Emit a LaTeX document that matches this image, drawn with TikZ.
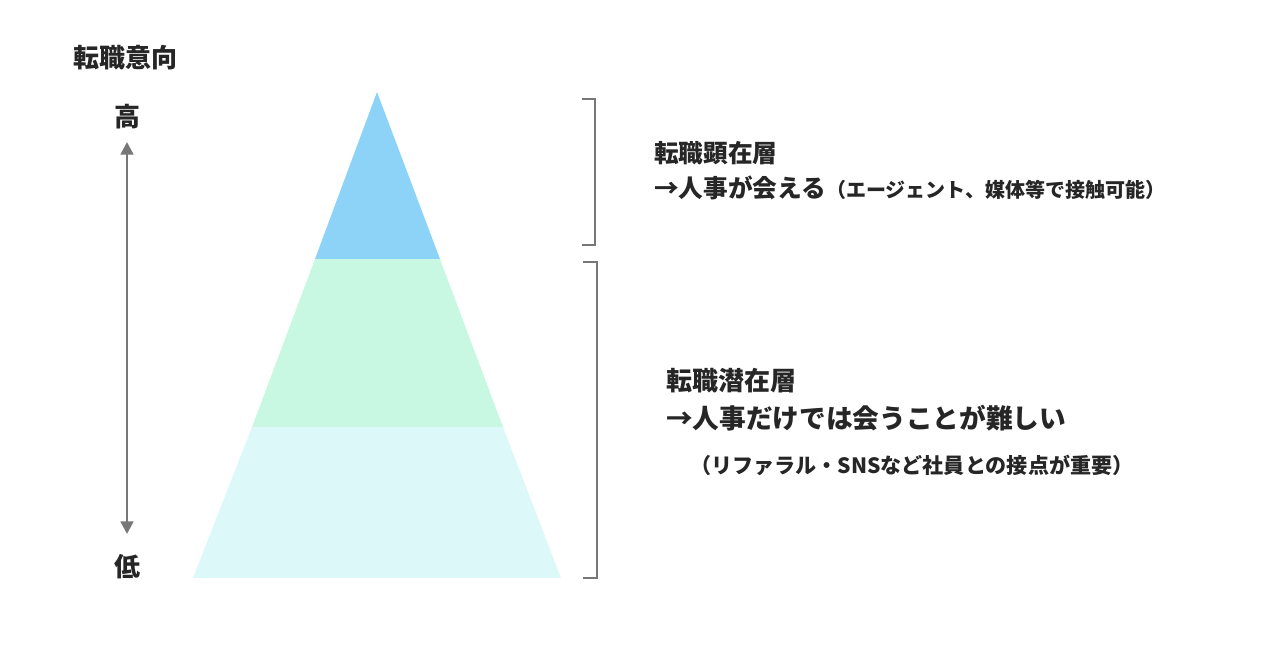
\documentclass[tikz,border=0pt]{standalone}
\usepackage{fontspec}
\newfontfamily\jp{Noto Sans CJK JP}
\usetikzlibrary{arrows.meta}
\definecolor{topblue}{HTML}{8DD3F7}
\definecolor{midgreen}{HTML}{C9F8E2}
\definecolor{lowcyan}{HTML}{DDF8F8}
\definecolor{greyline}{HTML}{777777}
\tikzset{
  lbl/.style={inner sep=0pt, font=\jp\bfseries, text=black!85},
  bracket/.style={draw=greyline, line width=2pt},
}
\begin{document}
\begin{tikzpicture}[x=0.75pt,y=-0.75pt]
\useasboundingbox (0,0) rectangle (1280,670);
% pyramid
\coordinate (apex) at (377,92);
\coordinate (tl) at (315,259);
\coordinate (tr) at (440,259);
\coordinate (ml) at (252,427);
\coordinate (mr) at (503,427);
\coordinate (bl) at (193,578);
\coordinate (br) at (561,578);
\fill[topblue] (apex) -- (tr) -- (tl) -- cycle;
\fill[midgreen] (tl) -- (tr) -- (mr) -- (ml) -- cycle;
\fill[lowcyan] (ml) -- (mr) -- (br) -- (bl) -- cycle;
% axis
\node[lbl, anchor=west] (title) at (73,58) {\fontsize{19.5}{22}\selectfont 転職意向};
\node[lbl] (hi) at (127,117) {\fontsize{19.5}{22}\selectfont 高};
\node[lbl] (lo) at (127,567) {\fontsize{19.5}{22}\selectfont 低};
\coordinate (atop) at (127,142);
\coordinate (abot) at (127,534);
\draw[greyline, line width=2pt, {Triangle[length=9.5pt,width=9.5pt]}-{Triangle[length=9.5pt,width=9.5pt]}] (atop) -- (abot);
% brackets
\coordinate (b1a) at (582,99);
\coordinate (b1b) at (595,99);
\coordinate (b1c) at (595,245);
\coordinate (b1d) at (582,245);
\draw[bracket] (b1a) -- (b1b) -- (b1c) -- (b1d);
\coordinate (b2a) at (583,262);
\coordinate (b2b) at (597,262);
\coordinate (b2c) at (597,578);
\coordinate (b2d) at (583,578);
\draw[bracket] (b2a) -- (b2b) -- (b2c) -- (b2d);
% texts upper
\node[lbl, anchor=west] (t1) at (654,153) {\fontsize{18.5}{22}\selectfont 転職顕在層};
\node[lbl, anchor=base west] (t2) at (654,198) {\fontsize{18.5}{22}\selectfont →人事が会える{\fontsize{15}{16}\selectfont （エージェント、媒体等で接触可能）}};
% texts lower
\node[lbl, anchor=west] (t3) at (666,381) {\fontsize{19.5}{22}\selectfont 転職潜在層};
\node[lbl, anchor=west] (t4) at (666,418) {\fontsize{20}{22}\selectfont →人事だけでは会うことが難しい};
\node[lbl, anchor=west] (t5) at (690,465) {\fontsize{15.8}{18}\selectfont （リファラル・SNSなど社員との接点が重要）};
\end{tikzpicture}
\end{document}
